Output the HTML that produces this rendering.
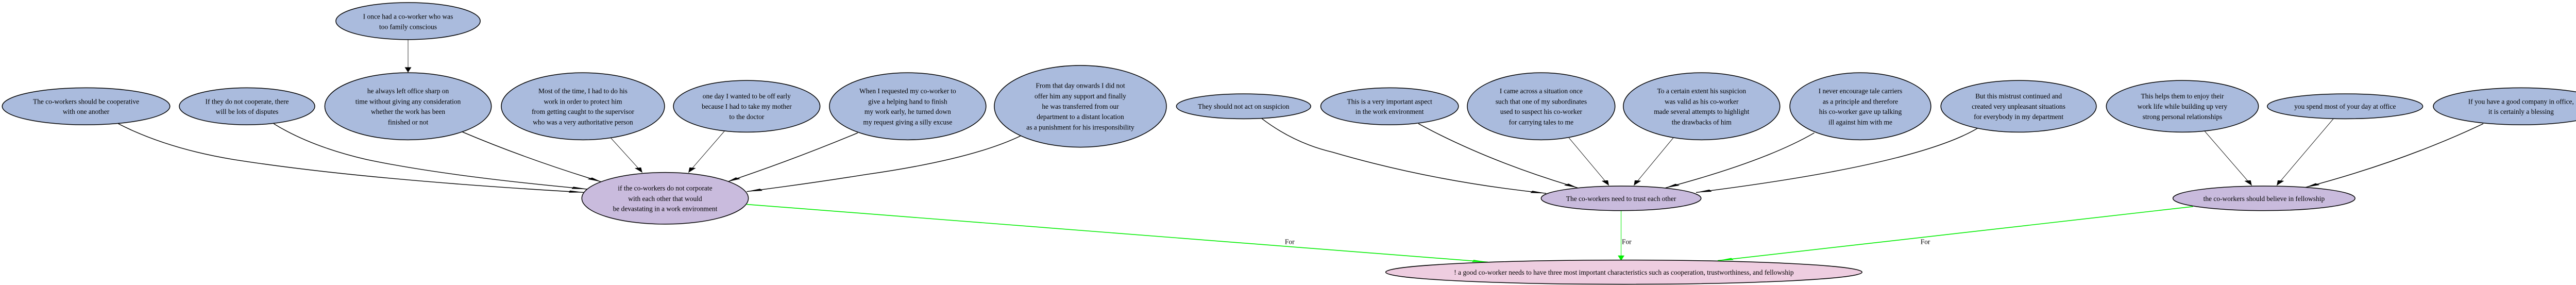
<!DOCTYPE html>
<html><head><meta charset="utf-8">
<style>
html,body{margin:0;padding:0;background:#fff;width:100%;height:100%;overflow:hidden;}
svg{display:block;width:100vw;height:100vh;}
text{font-family:"Liberation Serif",serif;font-size:39px;fill:#000;}
</style></head>
<body>
<svg viewBox="0 0 6511 553" preserveAspectRatio="none" xmlns="http://www.w3.org/2000/svg">
<defs>
<marker id="ab" markerUnits="userSpaceOnUse" markerWidth="30" markerHeight="16" refX="28" refY="8" orient="auto"><path d="M0,2 L28,8 L0,14 z" fill="#000"/></marker>
<marker id="ag" markerUnits="userSpaceOnUse" markerWidth="30" markerHeight="16" refX="28" refY="8" orient="auto"><path d="M0,2 L28,8 L0,14 z" fill="#00ee00"/></marker>
</defs>
<g transform="scale(1.40323,0.35563)">
<g fill="none" stroke="#000" stroke-width="1.4">
<path vector-effect="non-scaling-stroke" stroke-width="0.8" d="M735,218 L735,395" marker-end="url(#ab)"/>
<path vector-effect="non-scaling-stroke" d="M213,675 Q300,810 420,870 Q650,980 1053,1050" marker-end="url(#ab)"/>
<path vector-effect="non-scaling-stroke" d="M493,675 Q560,800 660,870 Q800,960 1058,1032" marker-end="url(#ab)"/>
<path vector-effect="non-scaling-stroke" d="M833,720 Q950,870 1083,992" marker-end="url(#ab)"/>
<path vector-effect="non-scaling-stroke" stroke-width="0.9" d="M1100,752 L1157,942" marker-end="url(#ab)"/>
<path vector-effect="non-scaling-stroke" stroke-width="0.9" d="M1305,715 L1240,942" marker-end="url(#ab)"/>
<path vector-effect="non-scaling-stroke" d="M1545,725 Q1430,870 1310,992" marker-end="url(#ab)"/>
<path vector-effect="non-scaling-stroke" d="M1838,742 Q1750,870 1560,952 Q1450,1005 1345,1045" marker-end="url(#ab)"/>
<path vector-effect="non-scaling-stroke" d="M2272,645 Q2330,780 2400,830 Q2580,990 2785,1055" marker-end="url(#ab)"/>
<path vector-effect="non-scaling-stroke" d="M2555,675 Q2680,880 2842,1025" marker-end="url(#ab)"/>
<path vector-effect="non-scaling-stroke" stroke-width="0.9" d="M2826,752 L2898,1012" marker-end="url(#ab)"/>
<path vector-effect="non-scaling-stroke" stroke-width="0.9" d="M3014,752 L2943,1012" marker-end="url(#ab)"/>
<path vector-effect="non-scaling-stroke" d="M3268,725 Q3180,880 3000,1025" marker-end="url(#ab)"/>
<path vector-effect="non-scaling-stroke" d="M3562,700 Q3450,900 3055,1050" marker-end="url(#ab)"/>
<path vector-effect="non-scaling-stroke" stroke-width="0.9" d="M3971,715 L4056,1012" marker-end="url(#ab)"/>
<path vector-effect="non-scaling-stroke" stroke-width="0.9" d="M4203,648 L4101,1012" marker-end="url(#ab)"/>
<path vector-effect="non-scaling-stroke" d="M4473,675 Q4330,880 4153,1022" marker-end="url(#ab)"/>
</g>
<g fill="none" stroke="#00ee00" stroke-width="1.6">
<path vector-effect="non-scaling-stroke" d="M1345,1115 L2680,1430" marker-end="url(#ag)"/>
<path vector-effect="non-scaling-stroke" stroke-width="1" d="M2920,1150 L2920,1422" marker-end="url(#ag)"/>
<path vector-effect="non-scaling-stroke" d="M3950,1127 L3094,1422" marker-end="url(#ag)"/>
</g>
<g stroke="#000" stroke-width="1.5">
<ellipse vector-effect="non-scaling-stroke" cx="735" cy="115" rx="130" ry="101" fill="#aabbdd"/>
<ellipse vector-effect="non-scaling-stroke" cx="735" cy="580" rx="150" ry="183" fill="#aabbdd"/>
<ellipse vector-effect="non-scaling-stroke" cx="155" cy="580" rx="151" ry="101" fill="#aabbdd"/>
<ellipse vector-effect="non-scaling-stroke" cx="445" cy="580" rx="122" ry="101" fill="#aabbdd"/>
<ellipse vector-effect="non-scaling-stroke" cx="1050" cy="580" rx="147" ry="183" fill="#aabbdd"/>
<ellipse vector-effect="non-scaling-stroke" cx="1345" cy="580" rx="132" ry="141" fill="#aabbdd"/>
<ellipse vector-effect="non-scaling-stroke" cx="1635" cy="580" rx="141" ry="183" fill="#aabbdd"/>
<ellipse vector-effect="non-scaling-stroke" cx="1946" cy="580" rx="155" ry="223" fill="#aabbdd"/>
<ellipse vector-effect="non-scaling-stroke" cx="2240" cy="580" rx="121" ry="68" fill="#aabbdd"/>
<ellipse vector-effect="non-scaling-stroke" cx="2503" cy="580" rx="124" ry="101" fill="#aabbdd"/>
<ellipse vector-effect="non-scaling-stroke" cx="2776" cy="580" rx="133" ry="183" fill="#aabbdd"/>
<ellipse vector-effect="non-scaling-stroke" cx="3065" cy="580" rx="141" ry="183" fill="#aabbdd"/>
<ellipse vector-effect="non-scaling-stroke" cx="3351" cy="580" rx="127" ry="183" fill="#aabbdd"/>
<ellipse vector-effect="non-scaling-stroke" cx="3636" cy="580" rx="140" ry="141" fill="#aabbdd"/>
<ellipse vector-effect="non-scaling-stroke" cx="3931" cy="580" rx="137" ry="141" fill="#aabbdd"/>
<ellipse vector-effect="non-scaling-stroke" cx="4224" cy="580" rx="140" ry="68" fill="#aabbdd"/>
<ellipse vector-effect="non-scaling-stroke" cx="4541" cy="580" rx="158" ry="101" fill="#aabbdd"/>
<ellipse vector-effect="non-scaling-stroke" cx="1198" cy="1082" rx="150" ry="141" fill="#c9bbdd"/>
<ellipse vector-effect="non-scaling-stroke" cx="2920" cy="1082" rx="144" ry="67" fill="#c9bbdd"/>
<ellipse vector-effect="non-scaling-stroke" cx="4078" cy="1082" rx="164" ry="67" fill="#c9bbdd"/>
<ellipse vector-effect="non-scaling-stroke" cx="2925" cy="1485" rx="429" ry="66" fill="#eecde0"/>
</g>
<g text-anchor="middle">
<text transform="translate(735,102) scale(0.32,1)">I once had a co-worker who was</text>
<text transform="translate(735,159) scale(0.32,1)">too family conscious</text>
<text transform="translate(735,509) scale(0.32,1)">he always left office sharp on</text>
<text transform="translate(735,566) scale(0.32,1)">time without giving any consideration</text>
<text transform="translate(735,622) scale(0.32,1)">whether the work has been</text>
<text transform="translate(735,679) scale(0.32,1)">finished or not</text>
<text transform="translate(155,566) scale(0.32,1)">The co-workers should be cooperative</text>
<text transform="translate(155,622) scale(0.32,1)">with one another</text>
<text transform="translate(445,566) scale(0.32,1)">If they do not cooperate, there</text>
<text transform="translate(445,622) scale(0.32,1)">will be lots of disputes</text>
<text transform="translate(1050,509) scale(0.32,1)">Most of the time, I had to do his</text>
<text transform="translate(1050,566) scale(0.32,1)">work in order to protect him</text>
<text transform="translate(1050,622) scale(0.32,1)">from getting caught to the supervisor</text>
<text transform="translate(1050,679) scale(0.32,1)">who was a very authoritative person</text>
<text transform="translate(1345,537) scale(0.32,1)">one day I wanted to be off early</text>
<text transform="translate(1345,594) scale(0.32,1)">because I had to take my mother</text>
<text transform="translate(1345,650) scale(0.32,1)">to the doctor</text>
<text transform="translate(1635,509) scale(0.32,1)">When I requested my co-worker to</text>
<text transform="translate(1635,566) scale(0.32,1)">give a helping hand to finish</text>
<text transform="translate(1635,622) scale(0.32,1)">my work early, he turned down</text>
<text transform="translate(1635,679) scale(0.32,1)">my request giving a silly excuse</text>
<text transform="translate(1946,480) scale(0.32,1)">From that day onwards I did not</text>
<text transform="translate(1946,537) scale(0.32,1)">offer him any support and finally</text>
<text transform="translate(1946,594) scale(0.32,1)">he was transferred from our</text>
<text transform="translate(1946,650) scale(0.32,1)">department to a distant location</text>
<text transform="translate(1946,707) scale(0.32,1)">as a punishment for his irresponsibility</text>
<text transform="translate(2240,594) scale(0.32,1)">They should not act on suspicion</text>
<text transform="translate(2503,566) scale(0.32,1)">This is a very important aspect</text>
<text transform="translate(2503,622) scale(0.32,1)">in the work environment</text>
<text transform="translate(2776,509) scale(0.32,1)">I came across a situation once</text>
<text transform="translate(2776,566) scale(0.32,1)">such that one of my subordinates</text>
<text transform="translate(2776,622) scale(0.32,1)">used to suspect his co-worker</text>
<text transform="translate(2776,679) scale(0.32,1)">for carrying tales to me</text>
<text transform="translate(3065,509) scale(0.32,1)">To a certain extent his suspicion</text>
<text transform="translate(3065,566) scale(0.32,1)">was valid as his co-worker</text>
<text transform="translate(3065,622) scale(0.32,1)">made several attempts to highlight</text>
<text transform="translate(3065,679) scale(0.32,1)">the drawbacks of him</text>
<text transform="translate(3351,509) scale(0.32,1)">I never encourage tale carriers</text>
<text transform="translate(3351,566) scale(0.32,1)">as a principle and therefore</text>
<text transform="translate(3351,622) scale(0.32,1)">his co-worker gave up talking</text>
<text transform="translate(3351,679) scale(0.32,1)">ill against him with me</text>
<text transform="translate(3636,537) scale(0.32,1)">But this mistrust continued and</text>
<text transform="translate(3636,594) scale(0.32,1)">created very unpleasant situations</text>
<text transform="translate(3636,650) scale(0.32,1)">for everybody in my department</text>
<text transform="translate(3931,537) scale(0.32,1)">This helps them to enjoy their</text>
<text transform="translate(3931,594) scale(0.32,1)">work life while building up very</text>
<text transform="translate(3931,650) scale(0.32,1)">strong personal relationships</text>
<text transform="translate(4224,594) scale(0.32,1)">you spend most of your day at office</text>
<text transform="translate(4541,566) scale(0.32,1)">If you have a good company in office,</text>
<text transform="translate(4541,622) scale(0.32,1)">it is certainly a blessing</text>
<text transform="translate(1198,1039) scale(0.32,1)">if the co-workers do not corporate</text>
<text transform="translate(1198,1096) scale(0.32,1)">with each other that would</text>
<text transform="translate(1198,1152) scale(0.32,1)">be devastating in a work environment</text>
<text transform="translate(2920,1096) scale(0.32,1)">The co-workers need to trust each other</text>
<text transform="translate(4078,1096) scale(0.32,1)">the co-workers should believe in fellowship</text>
<text transform="translate(2925,1499) scale(0.32,1)">! a good co-worker needs to have three most important characteristics such as cooperation, trustworthiness, and fellowship</text>
<text transform="translate(2323,1332) scale(0.32,1)">For</text>
<text transform="translate(2930,1332) scale(0.32,1)">For</text>
<text transform="translate(3468,1332) scale(0.32,1)">For</text>
</g>
</g>
</svg>
</body></html>
